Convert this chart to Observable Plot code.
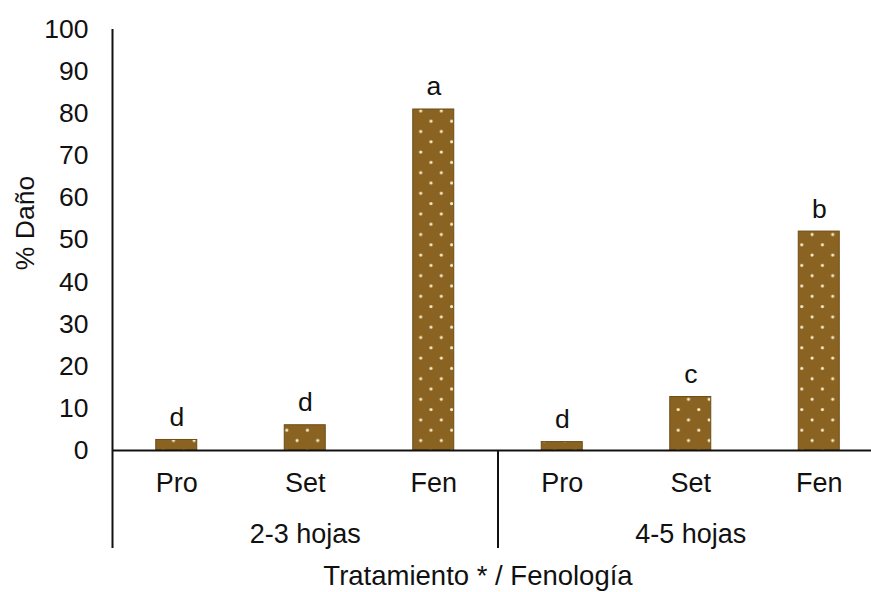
<!DOCTYPE html>
<html>
<head>
<meta charset="utf-8">
<script src="https://cdn.jsdelivr.net/npm/d3@7"></script>
<script src="https://cdn.jsdelivr.net/npm/@observablehq/plot@0.6"></script>
<style>
  html, body { margin: 0; padding: 0; background: #fff; }
</style>
</head>
<body>
<div id="chart"></div>
<script>
const categories = ["Pro", "Set", "Fen", "Pro", "Set", "Fen"];
const groups = ["2-3 hojas", "4-5 hojas"];
const damage = [2.5, 6, 81, 2, 12.7, 52];
const letters = ["d", "d", "a", "d", "c", "b"];
const yTicks = [0, 10, 20, 30, 40, 50, 60, 70, 80, 90, 100];
const xTitle = "Tratamiento * / Fenología";
const yTitle = "% Daño";

const data = damage.map((v, i) => ({
  i, cat: categories[i], group: groups[Math.floor(i / 3)], value: v, letter: letters[i]
}));

const ink = "#111";
const chart = Plot.plot({
  width: 871,
  height: 592,
  marginLeft: 112,
  marginRight: -12,
  marginTop: 29,
  marginBottom: 142,
  x: {domain: [0, 6], axis: null},
  y: {domain: [0, 100], axis: null},
  style: {fontFamily: "'Liberation Sans', Arial, sans-serif", fontSize: "26px", color: ink, background: "#fff"},
  marks: [
    Plot.rectY(data, {
      x1: d => d.i, x2: d => d.i + 1, y: "value",
      insetLeft: 43.75, insetRight: 43.75,
      fill: "url(#dots)", stroke: "#6e4c17", strokeWidth: 1
    }),
    Plot.ruleY([0], {stroke: ink, strokeWidth: 2}),
    Plot.ruleX([0], {stroke: ink, strokeWidth: 2, insetBottom: -98}),
    Plot.ruleX([3], {y1: 0, y2: 0, stroke: ink, strokeWidth: 2, insetBottom: -98}),
    Plot.axisY(yTicks, {tickSize: 0, tickPadding: 24, fontSize: 26.5, label: null}),
    Plot.text(data, {x: d => d.i + 0.5, y: "value", text: "letter", dy: -14, lineAnchor: "bottom", fontSize: 26.5}),
    Plot.text(data, {x: d => d.i + 0.5, text: "cat", frameAnchor: "bottom", dy: 41, fontSize: 27}),
    Plot.text(groups, {x: (d, i) => i * 3 + 1.5, text: d => d, frameAnchor: "bottom", dy: 92, fontSize: 27}),
    Plot.text([xTitle], {text: d => d, frameAnchor: "bottom", dx: -20, dy: 134, fontSize: 27.5}),
    Plot.text([yTitle], {text: d => d, frameAnchor: "left", textAnchor: "middle", rotate: -90, dx: -87, dy: -17, fontSize: 26.5})
  ]
});

const ns = "http://www.w3.org/2000/svg";
const defs = document.createElementNS(ns, "defs");
const pat = document.createElementNS(ns, "pattern");
pat.setAttribute("id", "dots");
pat.setAttribute("patternUnits", "userSpaceOnUse");
pat.setAttribute("width", "20.6");
pat.setAttribute("height", "20.6");
pat.setAttribute("x", "3.7");
pat.setAttribute("y", "2.9");
const bg = document.createElementNS(ns, "rect");
bg.setAttribute("width", "20.6");
bg.setAttribute("height", "20.6");
bg.setAttribute("fill", "#8a6222");
pat.appendChild(bg);
for (const [cx, cy] of [[5, 5], [15.3, 15.3]]) {
  const c = document.createElementNS(ns, "circle");
  c.setAttribute("cx", cx);
  c.setAttribute("cy", cy);
  c.setAttribute("r", "1.6");
  c.setAttribute("fill", "#f8ecc4");
  pat.appendChild(c);
}
defs.appendChild(pat);
chart.insertBefore(defs, chart.firstChild);

document.getElementById("chart").appendChild(chart);
</script>
</body>
</html>
